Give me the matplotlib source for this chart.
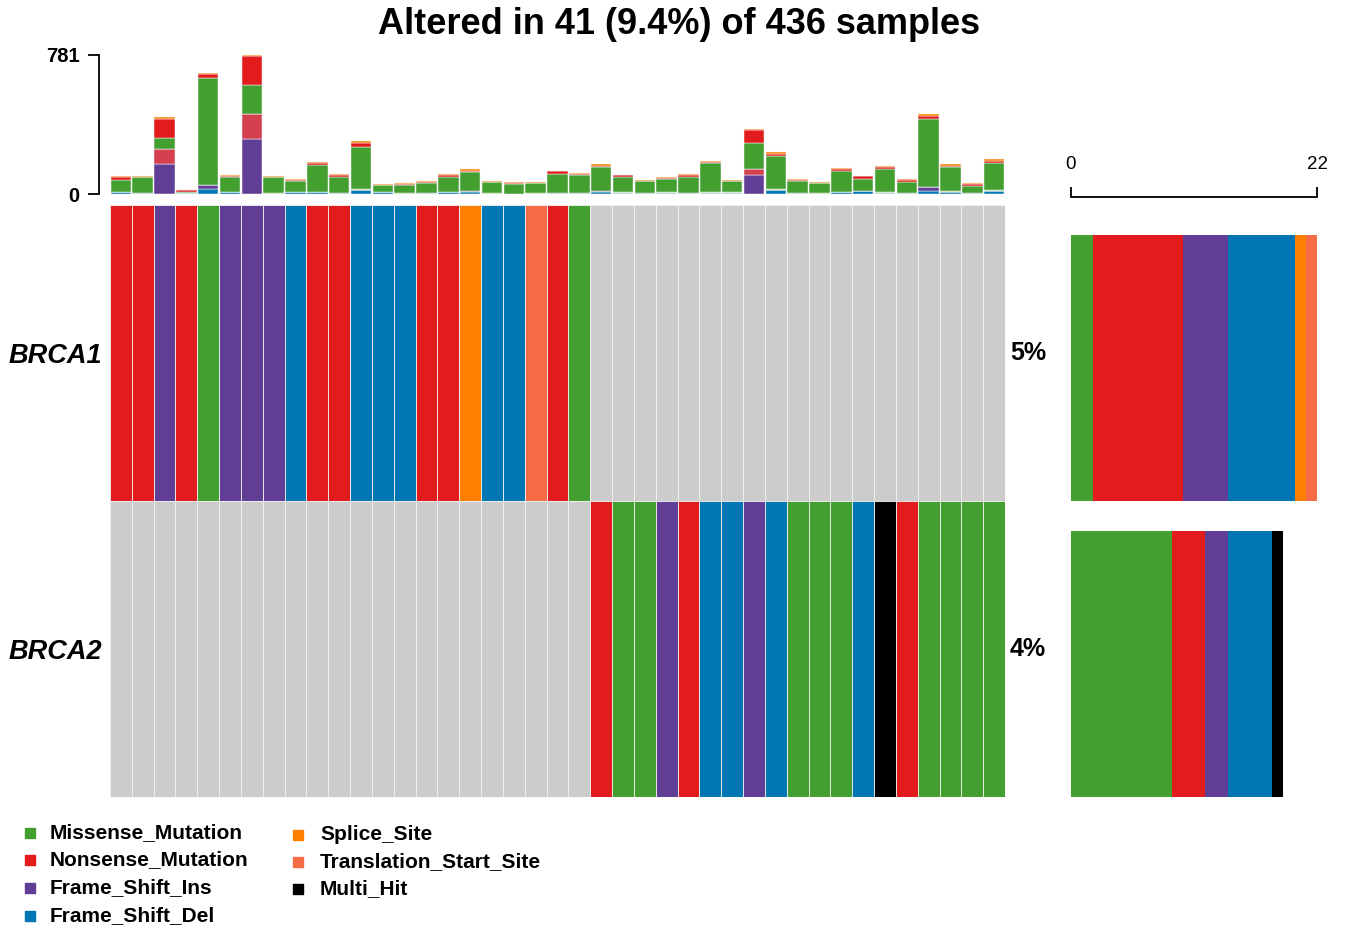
import matplotlib
matplotlib.use("Agg")
import matplotlib.pyplot as plt
from matplotlib.lines import Line2D
import numpy as np

plt.rcParams['font.family'] = ['Liberation Sans', 'DejaVu Sans']

# ---------------------------------------------------------------- data
TOTAL_SAMPLES = 436
genes = ["BRCA1", "BRCA2"]

legend_classes = ["Missense_Mutation", "Nonsense_Mutation", "Frame_Shift_Ins",
                  "Frame_Shift_Del", "Splice_Site", "Translation_Start_Site", "Multi_Hit"]
class_colors = {
    "Missense_Mutation": "#449F31",
    "Nonsense_Mutation": "#E21C1C",
    "Frame_Shift_Ins": "#613E96",
    "Frame_Shift_Del": "#0076B4",
    "Splice_Site": "#FF8000",
    "Translation_Start_Site": "#F76C45",
    "Multi_Hit": "#000000",
    "In_Frame_Del": "#D5404F",
    "In_Frame_Ins": "#B2DF8A",
}
codes = {"M": "Missense_Mutation", "N": "Nonsense_Mutation", "I": "Frame_Shift_Ins",
         "D": "Frame_Shift_Del", "S": "Splice_Site", "T": "Translation_Start_Site",
         "H": "Multi_Hit", "-": None}

# per-sample call in each gene (one character per sample, '-' = not altered)
brca1_calls = "NNINMIIIDNNDDDNNSDDTNM" + "-" * 19
brca2_calls = "-" * 22 + "NMMINDDIDMMMDHNMMMM"

# mutation burden per sample, split by variant class (stacked bottom -> top)
tmb_frame_shift_del = [9, 5, 0, 5, 26, 11, 0, 0, 9, 13, 6, 24, 9, 0, 6, 9, 9, 0, 0, 0, 7,
                       6, 9, 7, 6, 5, 7, 7, 4, 0, 20, 6, 0, 9, 15, 6, 6, 15, 13, 6, 15]
tmb_frame_shift_ins = [0, 0, 171, 0, 26, 0, 307, 0, 0, 0, 0, 0, 0, 0, 0, 0, 6, 0, 0, 0, 0,
                       0, 9, 0, 0, 0, 0, 0, 0, 108, 0, 0, 0, 4, 0, 0, 0, 26, 0, 0, 0]
tmb_in_frame_del = [0, 0, 80, 0, 0, 0, 145, 0, 0, 0, 0, 0, 0, 0, 0, 0, 0, 0, 0, 0, 0,
                    0, 0, 0, 0, 0, 0, 0, 0, 32, 0, 0, 0, 0, 0, 0, 0, 0, 0, 0, 0]
tmb_in_frame_ins = [0, 0, 0, 0, 0, 0, 0, 4, 0, 0, 0, 4, 0, 6, 0, 0, 0, 7, 0, 7, 0,
                    0, 0, 6, 0, 6, 0, 6, 6, 0, 6, 0, 6, 0, 0, 6, 0, 0, 6, 0, 6]
tmb_missense = [71, 90, 65, 9, 597, 84, 161, 89, 63, 151, 89, 238, 41, 45, 56, 87, 106, 58, 58, 56, 104,
                99, 134, 84, 67, 74, 89, 162, 61, 145, 186, 67, 56, 115, 67, 130, 61, 379, 134, 41, 151]
tmb_nonsense = [13, 3, 108, 6, 24, 6, 162, 4, 7, 11, 9, 20, 0, 4, 3, 9, 11, 3, 3, 0, 19,
                7, 7, 11, 2, 4, 9, 6, 2, 73, 13, 3, 0, 11, 17, 11, 9, 17, 7, 7, 13]
tmb_splice = [6, 5, 6, 3, 9, 7, 6, 6, 7, 7, 9, 9, 6, 4, 6, 7, 7, 6, 4, 6, 2,
              7, 9, 0, 5, 4, 8, 7, 7, 6, 9, 6, 7, 7, 0, 7, 6, 11, 9, 7, 9]

tmb_layers = [("Frame_Shift_Del", tmb_frame_shift_del),
              ("Frame_Shift_Ins", tmb_frame_shift_ins),
              ("In_Frame_Del", tmb_in_frame_del),
              ("In_Frame_Ins", tmb_in_frame_ins),
              ("Missense_Mutation", tmb_missense),
              ("Nonsense_Mutation", tmb_nonsense),
              ("Splice_Site", tmb_splice)]

# ---------------------------------------------------------------- figure
W, H = 1348, 933
fig = plt.figure(figsize=(W / 100, H / 100), dpi=100)
fig.patch.set_facecolor("white")


def rect(x0, y0, x1, y1):
    """pixel box (top-left origin) -> figure fraction rect"""
    return [x0 / W, 1 - y1 / H, (x1 - x0) / W, (y1 - y0) / H]


calls = [[codes[c] for c in brca1_calls], [codes[c] for c in brca2_calls]]
n_samples = len(calls[0])
x = np.arange(n_samples)
altered = sum(1 for i in range(n_samples) if any(calls[g][i] for g in range(len(genes))))

# title
fig.text(679 / W, 1 - 25 / H,
         f"Altered in {altered} ({altered / TOTAL_SAMPLES * 100:.1f}%) of {TOTAL_SAMPLES} samples",
         ha="center", va="center", fontsize=26, fontweight="bold")

# ---- top: mutation burden per sample
ax_top = fig.add_axes(rect(110, 55, 1005, 194))
bottom = np.zeros(n_samples)
for name, vals in tmb_layers:
    vals = np.asarray(vals, dtype=float)
    ax_top.bar(x, vals, width=0.94, bottom=bottom, color=class_colors[name],
               edgecolor="#F4F4F4", linewidth=0.35)
    bottom += vals
tmb_max = int(bottom.max())
ax_top.set_xlim(-0.5, n_samples - 0.5)
ax_top.set_ylim(0, tmb_max)
for s in ("top", "right", "bottom"):
    ax_top.spines[s].set_visible(False)
ax_top.spines["left"].set_position(("outward", 8))
ax_top.spines["left"].set_linewidth(1.3)
ax_top.set_xticks([])
ax_top.set_yticks([0, tmb_max])
ax_top.set_yticklabels(["0", str(tmb_max)], fontsize=14.5, fontweight="bold")
ax_top.tick_params(axis="y", length=8, width=1.3, pad=6)

# ---- main oncoprint grid
ax_main = fig.add_axes(rect(110, 205, 1005, 797))
n_genes = len(genes)
for g, row in enumerate(calls):
    ybase = n_genes - 1 - g
    cols = [class_colors[c] if c else "#CCCCCC" for c in row]
    ax_main.bar(x, np.ones(n_samples), width=1.0, bottom=ybase, color=cols,
                edgecolor="#F2F2F2", linewidth=0.6)
ax_main.set_xlim(-0.5, n_samples - 0.5)
ax_main.set_ylim(0, n_genes)
for s in ax_main.spines.values():
    s.set_visible(False)
ax_main.set_xticks([])
ax_main.set_yticks([n_genes - 1 - g + 0.5 for g in range(n_genes)])
ax_main.set_yticklabels(genes, fontsize=19.5, fontweight="bold", fontstyle="italic")
ax_main.tick_params(axis="y", length=0, pad=5.5)

gene_counts = [sum(1 for c in row if c) for row in calls]
for g, cnt in enumerate(gene_counts):
    ax_main.annotate(f"{round(cnt / TOTAL_SAMPLES * 100)}%",
                     xy=(1.0, n_genes - 1 - g + 0.5), xycoords=("axes fraction", "data"),
                     xytext=(3.6, 0), textcoords="offset points",
                     ha="left", va="center", fontsize=18, fontweight="bold")

# ---- right: variant class composition per gene
ax_right = fig.add_axes(rect(1071, 205, 1317, 797))
for g, row in enumerate(calls):
    ybase = n_genes - 1 - g
    left = 0
    for cls in legend_classes:
        n = sum(1 for c in row if c == cls)
        if n:
            ax_right.barh(ybase, n, height=0.9, left=left, align="edge",
                          color=class_colors[cls], linewidth=0)
            left += n
count_max = max(gene_counts)
ax_right.set_xlim(0, count_max)
ax_right.set_ylim(0, n_genes)
for s in ("bottom", "left", "right"):
    ax_right.spines[s].set_visible(False)
ax_right.spines["top"].set_position(("outward", 6))
ax_right.spines["top"].set_bounds(0, count_max)
ax_right.spines["top"].set_linewidth(1.3)
ax_right.xaxis.set_ticks_position("top")
ax_right.set_xticks([0, count_max])
ax_right.set_xticklabels(["0", str(count_max)], fontsize=13.5)
ax_right.tick_params(axis="x", direction="out", length=7, width=1.3, pad=10)
ax_right.set_yticks([])

# ---- legend
legend_cols = [legend_classes[:4], legend_classes[4:]]
col_pos = [(30, 50, [833, 860, 888, 916]), (298, 320, [835, 862, 889])]
for items, (mx, tx, ys) in zip(legend_cols, col_pos):
    for cls, yy in zip(items, ys):
        fig.add_artist(Line2D([mx / W], [1 - yy / H], marker="s", markersize=7.5,
                              color=class_colors[cls], linestyle="none",
                              transform=fig.transFigure))
        fig.text(tx / W, 1 - yy / H, cls, ha="left", va="center",
                 fontsize=15, fontweight="bold")

fig.savefig("out.png", dpi=100, facecolor="white")
